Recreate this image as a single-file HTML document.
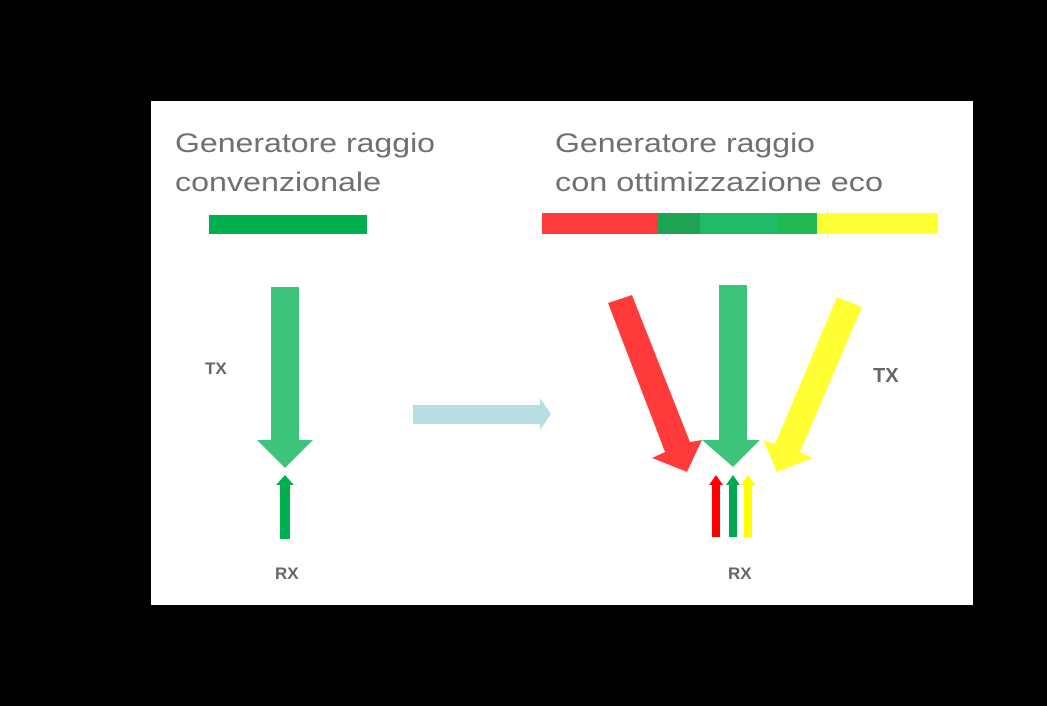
<!DOCTYPE html>
<html><head><meta charset="utf-8"><style>
html,body{margin:0;padding:0;background:#000;}
svg{display:block;}
text{font-family:"Liberation Sans",sans-serif;}
</style></head><body>
<svg width="1047" height="706" viewBox="0 0 1047 706" xmlns="http://www.w3.org/2000/svg">
<rect x="0" y="0" width="1047" height="706" fill="#000"/>
<rect x="151" y="101" width="822" height="504" fill="#fff"/>
<g fill="#707070" font-size="27">
<text x="175" y="152" textLength="260" lengthAdjust="spacingAndGlyphs">Generatore raggio</text>
<text x="175" y="191" textLength="206" lengthAdjust="spacingAndGlyphs">convenzionale</text>
<text x="555" y="152" textLength="260" lengthAdjust="spacingAndGlyphs">Generatore raggio</text>
<text x="555" y="191" textLength="328" lengthAdjust="spacingAndGlyphs">con ottimizzazione eco</text>
</g>
<rect x="209" y="215" width="158" height="19" fill="#00b050"/>
<rect x="542" y="213" width="115" height="21" fill="#ff3b3b"/>
<rect x="657" y="213" width="43" height="21" fill="#1ea352"/>
<rect x="700" y="213" width="78" height="21" fill="#1fbb66"/>
<rect x="778" y="213" width="39" height="21" fill="#22b853"/>
<rect x="817" y="213" width="121" height="21" fill="#ffff33"/>
<!-- left arrow -->
<polygon points="271,287 299,287 299,440 313,440 285,468 257,440 271,440" fill="#3cc47a"/>
<polygon points="280,539 290,539 290,485 294,485 285,475 276,485 280,485" fill="#00b050"/>
<g fill="#666" font-size="17" font-weight="bold">
<text x="205" y="374">TX</text>
<text x="275" y="579">RX</text>
<text x="728" y="579">RX</text>
<text x="873" y="382" font-size="20">TX</text>
</g>
<!-- blue arrow -->
<polygon points="413,405 540,405 540,398 551,414 540,430 540,424 413,424" fill="#b7dfe2"/>
<!-- center green -->
<polygon points="719,285 747,285 747,440 760,440 733,467 702,440 719,440" fill="#3cc47a"/>
<!-- red -->
<polygon points="608,303 632,295 690,442 702,440 687,472 652,458 665,452" fill="#ff3a3a"/>
<!-- yellow -->
<polygon points="837,297 862,307 800,452 813,458 777,472 763,440 775,444" fill="#ffff33"/>
<!-- small arrows -->
<polygon points="712,537 720,537 720,485 723,485 716,475 709,485 712,485" fill="#ff0000"/>
<polygon points="729,537 737,537 737,485 740,485 733,475 726,485 729,485" fill="#00a84f"/>
<polygon points="744,537 752,537 752,485 755,485 748,475 741,485 744,485" fill="#ffff00"/>
</svg>
</body></html>
